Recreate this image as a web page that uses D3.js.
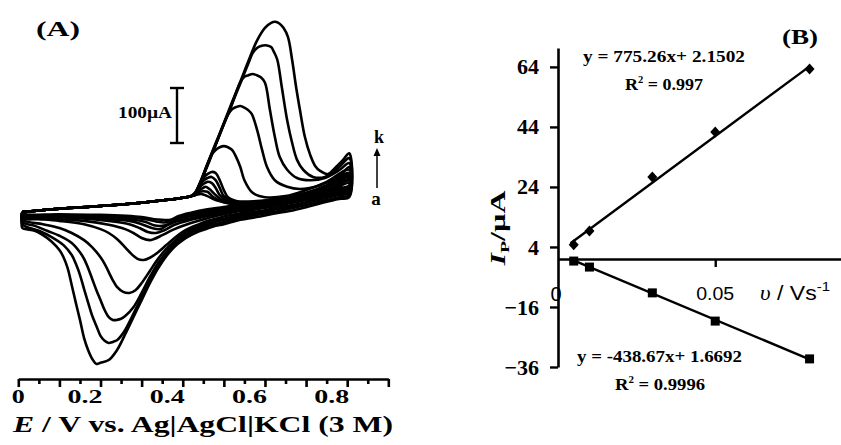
<!DOCTYPE html>
<html><head><meta charset="utf-8">
<script src="https://cdn.jsdelivr.net/npm/d3@7"></script>
<style>
html,body{margin:0;padding:0;background:#fff;}
svg{display:block;}
text{font-family:"Liberation Serif","Times New Roman",serif;font-weight:bold;fill:#000;}
</style></head><body>
<svg id="chart" width="841" height="445"></svg>
<script>
// ---------- Panel A : cyclic voltammograms (E / V, I / µA) ----------
const cvNames = ["a","b","c","d","e","f","g","h","i","j","k"];
const cvBaseline = [[0.01,-22],[0.1,-16],[0.2,-11],[0.3,-5],[0.4,4],[0.42,7]];

const fwd_a = [[0.43,9],[0.445,11],[0.46,7],[0.48,0],[0.52,-7],[0.58,-11],[0.65,-5],[0.70,4],[0.75,15],[0.805,31]];
const rev_a = [[0.805,26],[0.74,17],[0.70,12],[0.66,6],[0.62,1],[0.58,-4],[0.54,-8],[0.50,-13],[0.46,-17],[0.42,-23],[0.39,-29],[0.37,-36],[0.35,-36],[0.33,-35],[0.30,-31],[0.20,-27],[0.10,-26],[0.01,-25]];
const fwd_b = [[0.43,9],[0.44,15],[0.45,16],[0.46,15],[0.475,5],[0.50,-4],[0.58,-9],[0.65,-4],[0.70,5],[0.75,16],[0.805,35]];
const rev_b = [[0.805,25],[0.74,16],[0.70,11],[0.66,5],[0.62,-1],[0.58,-6],[0.54,-10],[0.50,-15],[0.46,-20],[0.42,-26],[0.39,-32],[0.37,-38],[0.355,-41],[0.335,-39],[0.31,-35],[0.25,-31],[0.15,-28],[0.01,-26]];
const fwd_c = [[0.43,9],[0.44,18],[0.45,22],[0.455,24],[0.465,20],[0.48,9],[0.50,-2],[0.58,-7],[0.65,-2],[0.70,7],[0.75,18],[0.805,38]];
const rev_c = [[0.805,24],[0.74,16],[0.70,9],[0.66,3],[0.62,-3],[0.58,-7],[0.54,-12],[0.50,-17],[0.46,-23],[0.42,-29],[0.38,-36],[0.365,-44],[0.35,-47],[0.33,-46],[0.31,-40],[0.28,-36],[0.20,-31],[0.10,-28],[0.01,-26]];
const fwd_d = [[0.43,10],[0.44,22],[0.45,29],[0.46,33],[0.47,31],[0.48,22],[0.49,9],[0.51,-2],[0.58,-5],[0.65,0],[0.70,9],[0.75,22],[0.805,42]];
const rev_d = [[0.805,22],[0.74,14],[0.70,7],[0.66,1],[0.62,-5],[0.58,-10],[0.54,-15],[0.50,-20],[0.46,-26],[0.42,-33],[0.38,-40],[0.36,-47],[0.345,-53],[0.325,-51],[0.30,-44],[0.27,-38],[0.20,-34],[0.10,-30],[0.01,-27]];
const fwd_e = [[0.43,11],[0.44,24],[0.45,35],[0.46,40],[0.47,42],[0.48,36],[0.49,22],[0.50,7],[0.52,-2],[0.58,-4],[0.65,2],[0.70,11],[0.75,24],[0.805,45]];
const rev_e = [[0.805,20],[0.78,17],[0.74,12],[0.70,5],[0.66,-1],[0.62,-6],[0.58,-12],[0.54,-17],[0.50,-23],[0.46,-29],[0.42,-36],[0.38,-45],[0.355,-55],[0.335,-60],[0.315,-58],[0.295,-51],[0.27,-44],[0.22,-38],[0.15,-33],[0.08,-31],[0.01,-28]];
const fwd_f = [[0.43,11],[0.44,25],[0.45,40],[0.46,47],[0.47,51],[0.48,49],[0.49,36],[0.50,18],[0.51,5],[0.53,-2],[0.58,-2],[0.65,4],[0.70,13],[0.75,27],[0.805,49]];
const rev_f = [[0.805,18],[0.78,15],[0.74,9],[0.70,3],[0.66,-4],[0.62,-9],[0.58,-15],[0.54,-20],[0.50,-26],[0.46,-33],[0.42,-42],[0.38,-53],[0.35,-64],[0.33,-71],[0.32,-73],[0.30,-69],[0.28,-60],[0.26,-53],[0.22,-45],[0.16,-38],[0.10,-35],[0.01,-29]];
const fwd_g = [[0.43,12],[0.44,25],[0.46,64],[0.47,82],[0.48,91],[0.49,96],[0.50,98],[0.51,96],[0.52,91],[0.53,78],[0.54,60],[0.55,36],[0.57,13],[0.60,5],[0.65,7],[0.70,18],[0.75,33],[0.805,55]];
const rev_g = [[0.805,16],[0.78,13],[0.74,6],[0.70,0],[0.66,-6],[0.62,-12],[0.58,-17],[0.54,-24],[0.50,-30],[0.48,-34],[0.46,-38],[0.44,-44],[0.42,-50],[0.40,-58],[0.38,-69],[0.36,-82],[0.34,-95],[0.32,-105],[0.305,-109],[0.29,-107],[0.275,-98],[0.26,-86],[0.24,-71],[0.22,-60],[0.20,-53],[0.16,-44],[0.10,-38],[0.05,-35],[0.01,-33]];
const fwd_h = [[0.43,12],[0.44,26],[0.46,62],[0.48,100],[0.50,138],[0.51,155],[0.52,165],[0.53,169],[0.54,171],[0.55,168],[0.56,163],[0.568,156],[0.581,127],[0.593,91],[0.605,60],[0.624,36],[0.654,24],[0.685,20],[0.734,27],[0.783,45],[0.805,60]];
const rev_h = [[0.805,15],[0.78,11],[0.74,4],[0.70,-4],[0.66,-10],[0.62,-16],[0.58,-21],[0.54,-27],[0.50,-34],[0.48,-37],[0.46,-42],[0.44,-47],[0.42,-54],[0.40,-62],[0.38,-75],[0.36,-89],[0.34,-107],[0.32,-129],[0.30,-151],[0.285,-164],[0.27,-169],[0.255,-167],[0.24,-158],[0.23,-146],[0.22,-131],[0.21,-116],[0.20,-104],[0.18,-86],[0.16,-73],[0.13,-60],[0.10,-51],[0.06,-44],[0.01,-36]];
const fwd_i = [[0.43,12],[0.44,27],[0.46,64],[0.48,101],[0.50,138],[0.52,175],[0.53,196],[0.54,214],[0.55,224],[0.56,227],[0.57,229],[0.58,227],[0.59,223],[0.60,213],[0.612,164],[0.624,115],[0.636,78],[0.654,55],[0.678,40],[0.71,36],[0.746,40],[0.782,55],[0.805,67]];
const rev_i = [[0.805,13],[0.78,9],[0.74,2],[0.70,-5],[0.66,-13],[0.62,-18],[0.58,-24],[0.54,-30],[0.50,-36],[0.48,-40],[0.46,-45],[0.44,-50],[0.42,-56],[0.40,-65],[0.38,-78],[0.36,-95],[0.34,-115],[0.32,-140],[0.30,-169],[0.28,-195],[0.26,-211],[0.25,-216],[0.24,-218],[0.23,-218],[0.22,-213],[0.21,-200],[0.20,-182],[0.19,-164],[0.18,-144],[0.17,-124],[0.16,-107],[0.15,-95],[0.13,-78],[0.10,-65],[0.07,-56],[0.04,-47],[0.01,-40]];
const fwd_j = [[0.43,13],[0.44,27],[0.46,64],[0.48,101],[0.50,138],[0.52,175],[0.54,212],[0.56,249],[0.57,267],[0.58,276],[0.59,280],[0.605,281],[0.615,278],[0.622,269],[0.63,255],[0.641,205],[0.654,145],[0.666,104],[0.678,73],[0.693,55],[0.717,42],[0.746,42],[0.778,58],[0.805,76]];
const rev_j = [[0.805,9],[0.78,5],[0.74,-2],[0.70,-9],[0.66,-16],[0.62,-22],[0.58,-27],[0.54,-33],[0.50,-40],[0.48,-44],[0.46,-48],[0.44,-54],[0.42,-60],[0.40,-69],[0.38,-82],[0.36,-98],[0.34,-120],[0.32,-145],[0.30,-176],[0.28,-207],[0.26,-236],[0.25,-247],[0.24,-255],[0.23,-258],[0.22,-260],[0.21,-256],[0.20,-247],[0.19,-229],[0.18,-211],[0.17,-187],[0.16,-162],[0.15,-136],[0.14,-116],[0.13,-100],[0.11,-82],[0.08,-67],[0.05,-56],[0.01,-44]];
const fwd_k = [[0.43,13],[0.44,28],[0.46,66],[0.48,103],[0.50,140],[0.52,178],[0.54,215],[0.56,253],[0.58,289],[0.60,313],[0.615,322],[0.625,324],[0.635,321],[0.645,313],[0.656,296],[0.666,255],[0.676,204],[0.685,164],[0.697,115],[0.71,82],[0.722,62],[0.734,53],[0.753,47],[0.77,58],[0.79,73],[0.805,85]];
const rev_k = [[0.805,5],[0.78,2],[0.74,-5],[0.70,-13],[0.66,-20],[0.62,-25],[0.58,-31],[0.54,-36],[0.50,-44],[0.48,-47],[0.46,-52],[0.44,-57],[0.42,-64],[0.40,-73],[0.38,-85],[0.36,-102],[0.34,-124],[0.32,-151],[0.30,-182],[0.28,-213],[0.26,-244],[0.24,-273],[0.22,-291],[0.20,-296],[0.19,-298],[0.18,-289],[0.17,-273],[0.16,-251],[0.15,-218],[0.14,-187],[0.13,-155],[0.12,-124],[0.11,-104],[0.10,-91],[0.08,-75],[0.06,-64],[0.04,-56],[0.02,-53],[0.01,-51]];

const cvForward = [fwd_a,fwd_b,fwd_c,fwd_d,fwd_e,fwd_f,fwd_g,fwd_h,fwd_i,fwd_j,fwd_k];
const cvReverse = [rev_a,rev_b,rev_c,rev_d,rev_e,rev_f,rev_g,rev_h,rev_i,rev_j,rev_k];

const xTicksA = [0,0.2,0.4,0.6,0.8];
const xTickLabelsA = ["0","0.2","0.4","0.6","0.8"];
const scaleBarValue = 100; // µA

// ---------- Panel B : peak current vs scan rate ----------
const scanRates = [0.005,0.01,0.03,0.05,0.08];
const ipAnodic = [4.7,9.3,27.3,42.3,63.3];
const ipCathodic = [-0.7,-2.7,-11.3,-20.7,-33.3];
const fitAnodic = [775.26,2.1502];
const fitCathodic = [-438.67,1.6692];
const yTicksB = [64,44,24,4,-16,-36];
const xTicksB = [0.05];

const svg = d3.select("#chart");

// ===== Panel A =====
const xA = d3.scaleLinear().domain([0,0.9]).range([18.3,388.3]);
const yA = d3.scaleLinear().domain([0,100]).range([200,145]);
const gA = svg.append("g");

const cvLine = d3.line().x(d=>xA(d[0])).y(d=>yA(d[1])).curve(d3.curveCatmullRom.alpha(0.5));
cvNames.forEach((n,i)=>{
  const pts = cvBaseline.concat(cvForward[i], cvReverse[i], [cvBaseline[0]]);
  gA.append("path").attr("d", cvLine(pts))
    .attr("fill","none").attr("stroke","#000").attr("stroke-width",2.6)
    .attr("stroke-linejoin","round");
});

// x axis A
const axA = gA.append("g").attr("transform","translate(0,379)")
  .call(d3.axisBottom(xA).tickValues(d3.range(0,0.901,0.1)).tickSize(8).tickSizeOuter(0).tickFormat(""));
axA.select(".domain").attr("stroke-width",2.6);
axA.selectAll(".tick line").attr("stroke-width",2.6);
const axA2 = gA.append("g").attr("transform","translate(0,379)")
  .call(d3.axisBottom(xA).tickValues(d3.range(0.05,0.9,0.1)).tickSize(5).tickSizeOuter(0).tickFormat(""));
axA2.select(".domain").remove();
axA2.selectAll(".tick line").attr("stroke-width",2.6);

xTicksA.forEach((v,i)=>{
  const t = gA.append("text").attr("y",403).style("font-size","19px").text(xTickLabelsA[i]);
  if (v===0) t.attr("x",xA(v)).attr("text-anchor","middle").attr("textLength",13).attr("lengthAdjust","spacingAndGlyphs");
  else t.attr("x",xA(v)+2).attr("text-anchor","end").attr("textLength",35).attr("lengthAdjust","spacingAndGlyphs");
});

const titleA = gA.append("text").attr("x",13).attr("y",432).style("font-size","24px")
  .attr("textLength",380).attr("lengthAdjust","spacingAndGlyphs");
titleA.append("tspan").style("font-style","italic").text("E");
titleA.append("tspan").text(" / V vs. Ag|AgCl|KCl (3 M)");

gA.append("text").attr("x",36).attr("y",36).style("font-size","22px")
  .attr("textLength",44).attr("lengthAdjust","spacingAndGlyphs").text("(A)");

// scale bar
const sbTop = 88, sbLen = yA(0)-yA(scaleBarValue), sbX = 177;
gA.append("line").attr("x1",sbX).attr("x2",sbX).attr("y1",sbTop).attr("y2",sbTop+sbLen).attr("stroke","#000").attr("stroke-width",2.4);
gA.append("line").attr("x1",sbX-7).attr("x2",sbX+7).attr("y1",sbTop).attr("y2",sbTop).attr("stroke","#000").attr("stroke-width",2.4);
gA.append("line").attr("x1",sbX-7).attr("x2",sbX+7).attr("y1",sbTop+sbLen).attr("y2",sbTop+sbLen).attr("stroke","#000").attr("stroke-width",2.4);
gA.append("text").attr("x",118).attr("y",118).style("font-size","16px")
  .attr("textLength",54).attr("lengthAdjust","spacingAndGlyphs").text("100\u00B5A");

// a -> k arrow
gA.append("text").attr("x",379).attr("y",143).attr("text-anchor","middle").style("font-size","18px").text(cvNames[10]);
gA.append("text").attr("x",376).attr("y",205).attr("text-anchor","middle").style("font-size","19px").text(cvNames[0]);
gA.append("line").attr("x1",377).attr("x2",377).attr("y1",188).attr("y2",152).attr("stroke","#000").attr("stroke-width",1.5);
gA.append("path").attr("d","M377,148 L373.5,156 L380.5,156 Z").attr("fill","#000");

// ===== Panel B =====
const xB = d3.scaleLinear().domain([0,0.09]).range([558,841]);
const yB = d3.scaleLinear().domain([-36,70.3]).range([367,48]);
const gB = svg.append("g");

const ayB = gB.append("g").attr("transform","translate(558,0)")
  .call(d3.axisLeft(yB).tickValues(yTicksB).tickSize(8).tickSizeOuter(0).tickPadding(11));
ayB.select(".domain").attr("stroke-width",2.6);
ayB.selectAll(".tick line").attr("stroke-width",2.4);
ayB.selectAll("text").style("font-family",'"Liberation Serif",serif').style("font-size","22px").style("font-weight","bold");

const axB = gB.append("g").attr("transform",`translate(0,${yB(0)})`)
  .call(d3.axisBottom(xB).tickValues(xTicksB).tickSize(8).tickSizeOuter(0).tickFormat(""));
axB.select(".domain").attr("stroke-width",2.6);
axB.selectAll(".tick line").attr("stroke-width",2.4);

gB.append("text").attr("x",xB(0)-2).attr("y",301).attr("text-anchor","middle")
  .style("font-family",'"Liberation Sans",Arial,sans-serif').style("font-weight","normal").style("font-size","20px").text("0");
gB.append("text").attr("x",xB(0.05)).attr("y",300).attr("text-anchor","middle")
  .style("font-family",'"Liberation Sans",Arial,sans-serif').style("font-weight","normal").style("font-size","19px")
  .attr("textLength",38).attr("lengthAdjust","spacingAndGlyphs").text("0.05");
const xtB = gB.append("text").attr("x",760).attr("y",300).style("font-weight","normal").style("font-size","20px")
  .attr("textLength",70).attr("lengthAdjust","spacingAndGlyphs");
xtB.append("tspan").style("font-style","italic").style("font-family",'"Liberation Serif",serif').text("\u03C5");
xtB.append("tspan").style("font-family",'"Liberation Sans",Arial,sans-serif').text(" / Vs");
xtB.append("tspan").style("font-family",'"Liberation Sans",Arial,sans-serif').style("font-size","13px").attr("dy",-9).text("-1");

const ytB = gB.append("text").attr("transform","translate(505,228) rotate(-90)").attr("text-anchor","middle")
  .style("font-size","21px").attr("textLength",75).attr("lengthAdjust","spacingAndGlyphs");
ytB.append("tspan").style("font-style","italic").text("I");
ytB.append("tspan").style("font-size","13px").attr("dy",4).text("P");
ytB.append("tspan").attr("dy",-4).text("/\u00B5A");

gB.append("text").attr("x",782).attr("y",44).style("font-size","22px")
  .attr("textLength",36).attr("lengthAdjust","spacingAndGlyphs").text("(B)");

// fit lines
const fitRange = [0.004,0.08];
const fitLine = d3.line().x(d=>xB(d[0])).y(d=>yB(d[1]));
[fitAnodic, fitCathodic].forEach(f=>{
  gB.append("path").attr("d", fitLine(fitRange.map(v=>[v, f[0]*v+f[1]])))
    .attr("stroke","#000").attr("stroke-width",2.4).attr("fill","none");
});
// markers
scanRates.forEach((v,i)=>{
  const cx = xB(v), cy = yB(ipAnodic[i]);
  gB.append("path").attr("d",`M${cx},${cy-5.5}L${cx+5},${cy}L${cx},${cy+5.5}L${cx-5},${cy}Z`).attr("fill","#000");
  gB.append("rect").attr("x",xB(v)-4.5).attr("y",yB(ipCathodic[i])-4.5).attr("width",9).attr("height",9).attr("fill","#000");
});

// equations
function eq(x, y, w, txt, size){
  gB.append("text").attr("x",x).attr("y",y).style("font-size",size+"px")
    .attr("textLength",w).attr("lengthAdjust","spacingAndGlyphs").text(txt);
}
function r2(x, y, w, val){
  const t = gB.append("text").attr("x",x).attr("y",y).style("font-size","17px")
    .attr("textLength",w).attr("lengthAdjust","spacingAndGlyphs");
  t.append("tspan").text("R");
  t.append("tspan").style("font-size","10px").attr("dy",-7).text("2");
  t.append("tspan").attr("dy",7).text(" = " + val);
}
eq(583, 62, 162, "y = 775.26x+ 2.1502", 17);
r2(625, 90, 78, "0.997");
eq(577, 362, 165, "y = -438.67x+ 1.6692", 17);
r2(615, 390, 90, "0.9996");
</script>
</body></html>
